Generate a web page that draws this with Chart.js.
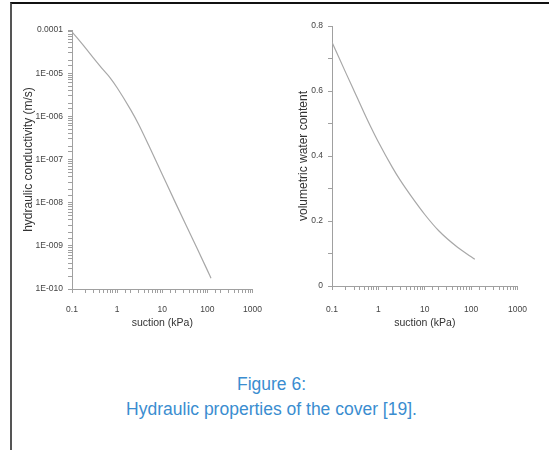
<!DOCTYPE html>
<html>
<head>
<meta charset="utf-8">
<script src="https://cdn.jsdelivr.net/npm/chart.js@4/dist/chart.umd.min.js"></script>
<style>
  body { margin: 0; background: #fff; width: 549px; height: 450px; overflow: hidden; position: relative; font-family: "Liberation Sans", Arial, sans-serif; }
  #frame { position: absolute; left: 10px; top: 2px; width: 545px; height: 460px; border-top: 2px solid #111; border-left: 2px solid #555; }
  .box { position: absolute; top: 5px; width: 262px; height: 330px; }
  #left_box { left: 12px; }
  #right_box { left: 280px; }
  #caption { position: absolute; left: 0; top: 372px; width: 543px; text-align: center; color: #3a8dd0; font-size: 17.5px; line-height: 25px; }
</style>
</head>
<body>
<div id="frame"></div>
<div class="box" id="left_box"><canvas id="k_graph"></canvas></div>
<div class="box" id="right_box"><canvas id="theta_graph"></canvas></div>
<div id="caption">Figure 6:<br>Hydraulic properties of the cover [19].</div>

<script>
//データ####################################################

var suction = [0.1, 0.2, 0.3, 0.5, 0.7, 1, 2, 3, 5, 10, 20, 50, 100, 120];
var conductivity = [9.1e-5, 3.8e-5, 2.24e-5, 1.17e-5, 7.8e-6, 4.6e-6, 1.41e-6, 6.5e-7, 2.14e-7, 4.5e-8, 9.5e-9, 1.26e-9, 2.7e-10, 1.78e-10];
var waterContent = [0.75, 0.655, 0.60, 0.531, 0.487, 0.443, 0.365, 0.324, 0.278, 0.22, 0.17, 0.12, 0.09, 0.082];

var suctionTicks = [0.1, 1, 10, 100, 1000];
var suctionLabels = ["0.1", "1", "10", "100", "1000"];
var kTicks = [1e-4, 1e-5, 1e-6, 1e-7, 1e-8, 1e-9, 1e-10];
var kLabels = ["0.0001", "1E-005", "1E-006", "1E-007", "1E-008", "1E-009", "1E-010"];
var thetaLabels = ["0", "0.2", "0.4", "0.6", "0.8"];

//共通設定####################################################

Chart.defaults.font.family = '"Liberation Sans", Arial, sans-serif';
Chart.defaults.color = '#444';
Chart.defaults.animation = false;

var axisColor = '#a0a0a0';
var lineColor = '#a8a8a8';

function findLabel(v, ticks, labels) {
  for (var i = 0; i < ticks.length; i++) {
    if (Math.abs(Math.log10(v) - Math.log10(ticks[i])) < 1e-6) return labels[i];
  }
  return '';
}

function toPoints(xs, ys) {
  return xs.map(function(x, i){ return {x: x, y: ys[i]}; });
}

function suctionAxis(h, pad) {
  return {
    type: 'logarithmic',
    min: 0.1,
    max: 1000,
    afterFit: function(s){ s.height = h; },
    border: { color: axisColor, width: 1 },
    grid: { drawOnChartArea: false, tickLength: 4, color: axisColor },
    ticks: {
      autoSkip: false,
      maxRotation: 0,
      padding: pad,
      font: { size: 8.5 },
      callback: function(v){ return findLabel(v, suctionTicks, suctionLabels); }
    },
    title: { display: true, text: 'suction (kPa)', color: '#333', font: { size: 10.5 }, padding: { top: 0, bottom: 6 } }
  };
}

//透水係数####################################################

var ctxK = document.getElementById('k_graph').getContext('2d');
var chartK = new Chart(ctxK, {
  type: 'line',
  data: {
    datasets: [{
      data: toPoints(suction, conductivity),
      borderColor: lineColor,
      borderWidth: 1.2,
      pointRadius: 0,
      cubicInterpolationMode: 'monotone'
    }]
  },
  options: {
    responsive: true,
    maintainAspectRatio: false,
    layout: { padding: { top: 25, right: 16, left: 0, bottom: 0 } },
    plugins: { legend: { display: false }, tooltip: { enabled: false } },
    scales: {
      x: suctionAxis(46, 12),
      y: {
        type: 'logarithmic',
        min: 1e-10,
        max: 1e-4,
        afterFit: function(s){ s.width = 60; },
        border: { color: axisColor, width: 1 },
        grid: { drawOnChartArea: false, tickLength: 4, color: axisColor },
        ticks: {
          autoSkip: false,
          padding: 5,
          font: { size: 8.5 },
          callback: function(v){ return findLabel(v, kTicks, kLabels); }
        },
        title: { display: true, text: 'hydraulic conductivity (m/s)', color: '#333', font: { size: 12 }, padding: { top: 9.5 } }
      }
    }
  }
});

//体積含水率####################################################

var ctxT = document.getElementById('theta_graph').getContext('2d');
var chartT = new Chart(ctxT, {
  type: 'line',
  data: {
    datasets: [{
      data: toPoints(suction, waterContent),
      borderColor: lineColor,
      borderWidth: 1.2,
      pointRadius: 0,
      cubicInterpolationMode: 'monotone'
    }]
  },
  options: {
    responsive: true,
    maintainAspectRatio: false,
    layout: { padding: { top: 21, right: 22, left: 0, bottom: 0 } },
    plugins: { legend: { display: false }, tooltip: { enabled: false } },
    scales: {
      x: suctionAxis(49, 15),
      y: {
        min: 0,
        max: 0.8,
        afterFit: function(s){ s.width = 52; },
        border: { color: axisColor, width: 1 },
        grid: { drawOnChartArea: false, tickLength: 4, color: axisColor },
        ticks: {
          autoSkip: false,
          stepSize: 0.1,
          padding: 5,
          font: { size: 8.5 },
          callback: function(v){
            var n = Math.round(v * 10);
            return n % 2 === 0 ? thetaLabels[n / 2] : '';
          }
        },
        title: { display: true, text: 'volumetric water content', color: '#333', font: { size: 12 }, padding: { top: 16.5 } }
      }
    }
  }
});
</script>
</body>
</html>
